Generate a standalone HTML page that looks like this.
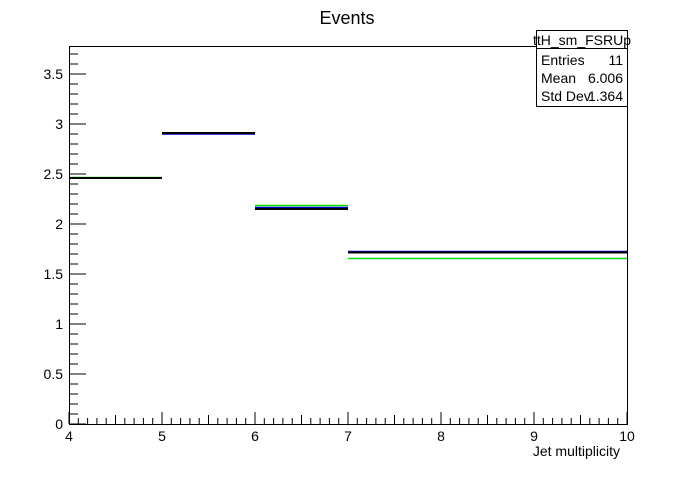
<!DOCTYPE html>
<html><head><meta charset="utf-8"><style>
body{margin:0;background:#fff;font-family:"Liberation Sans",sans-serif}
svg text{font-family:"Liberation Sans",sans-serif}
</style></head><body>
<svg id="c" width="696" height="472">
<rect width="696" height="472" fill="#fff"/>
<text x="347" y="24" font-size="18" text-anchor="middle">Events</text>
<g id="plot"></g>
<g id="axes"></g>
<text x="620" y="456" font-size="14" text-anchor="end">Jet multiplicity</text>
<g>
<rect x="536.5" y="30.5" width="91" height="76" fill="#fff" stroke="#000"/>
<line x1="536.5" y1="48.5" x2="627.5" y2="48.5" stroke="#000"/>
<text x="582" y="45" font-size="14" text-anchor="middle">ttH_sm_FSRUp</text>
<text x="541" y="65" font-size="14">Entries</text><text x="623" y="65" font-size="14" text-anchor="end">11</text>
<text x="541" y="83" font-size="14">Mean</text><text x="623" y="83" font-size="14" text-anchor="end">6.006</text>
<text x="541" y="101" font-size="14">Std Dev</text><text x="623" y="101" font-size="14" text-anchor="end">1.364</text>
</g>
</svg>
<script>
const binEdges=[4,5,6,7,10];
const blackVals=[2.46,2.91,2.15,1.715];
const blueVals=[2.46,2.90,2.165,1.725];
const greenVals=[2.465,2.91,2.185,1.655];
const xTicks=[4,5,6,7,8,9,10];
const yTicks=[0,0.5,1,1.5,2,2.5,3,3.5];
const X0=69,X1=627,Y0=424,Y1=46,xMin=4,xMax=10,yMin=0,yMax=3.78;
const sx=v=>X0+(v-xMin)/(xMax-xMin)*(X1-X0);
const sy=v=>Y0-(v-yMin)/(yMax-yMin)*(Y0-Y1);
const NS="http://www.w3.org/2000/svg";
const plot=document.getElementById('plot'),axes=document.getElementById('axes');
function mk(p,tag,a){const e=document.createElementNS(NS,tag);for(const k in a)e.setAttribute(k,a[k]);p.appendChild(e);return e;}
function series(vals,color,w,name){
 vals.forEach((v,i)=>{
  const l=mk(plot,'line',{x1:sx(binEdges[i]),x2:sx(binEdges[i+1]),y1:sy(v),y2:sy(v),stroke:color,'stroke-width':w});
  
  
 });
}
series(greenVals,'#00e000',1.6,'green');
series(blueVals,'#0000cc',1.6,'blue');
series(blackVals,'#000',2,'black');
mk(axes,'rect',{x:X0+0.5,y:Y1+0.5,width:X1-X0,height:Y0-Y1,fill:'none',stroke:'#000'});
xTicks.forEach(t=>{
 const x=sx(t);
 mk(axes,'line',{x1:x,x2:x,y1:Y0,y2:Y0-12,stroke:'#000'});
 const tx=mk(axes,'text',{x:x,y:Y0+17,'font-size':14,'text-anchor':'middle'});tx.textContent=t;
 
 
});
for(let v=4.1;v<10;v+=0.1){if(Math.abs(v-Math.round(v))<0.01)continue;const x=sx(v);mk(axes,'line',{x1:x,x2:x,y1:Y0,y2:Y0-(Math.abs(v*2-Math.round(v*2))<0.01?9:6),stroke:'#000'});}
yTicks.forEach(t=>{
 const y=sy(t);
 mk(axes,'line',{x1:X0,x2:X0+17,y1:y,y2:y,stroke:'#000'});
 const tx=mk(axes,'text',{x:X0-6,y:y+5,'font-size':14,'text-anchor':'end'});tx.textContent=t;
 
 
});
for(let v=0.1;v<3.78;v+=0.1){if(Math.abs(v*2-Math.round(v*2))<0.01)continue;const y=sy(v);mk(axes,'line',{x1:X0,x2:X0+9,y1:y,y2:y,stroke:'#000'});}
</script>
</body></html>
